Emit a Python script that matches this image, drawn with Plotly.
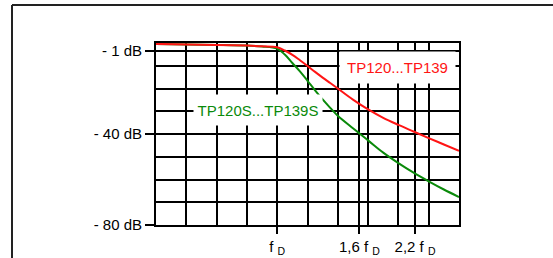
import plotly.graph_objects as go

# frequency relative to f_D
freq = [0.5, 0.7071, 0.8409, 0.917, 1.0, 1.0443, 1.0905, 1.1388, 1.1892, 1.2418,
        1.2968, 1.3543, 1.4142, 1.5422, 1.6818, 1.834, 2.0, 2.181, 2.3784, 2.5937, 2.8284]
tp_std = [-0.4, -0.85, -1.15, -1.45, -1.9, -3.3, -5.2, -7.6, -10.1, -12.7,
          -15.2, -17.6, -20.0, -24.9, -29.2, -32.9, -36.0, -38.9, -41.8, -44.6, -47.4]
tp_s = [-0.4, -0.85, -1.15, -1.5, -2.5, -5.1, -8.8, -12.5, -16.6, -20.8,
        -24.8, -28.5, -32.0, -37.5, -42.8, -48.2, -52.8, -57.0, -60.8, -64.4, -67.7]

x_tickvals = [1.0, 1.6, 2.2]
x_ticktext = ["f <sub>D</sub>", "1,6 f <sub>D</sub>", "2,2 f <sub>D</sub>"]
y_tickvals = [-3.6, -40, -80]
y_ticktext = ["- 1 dB", "- 40 dB", "- 80 dB"]
x_grid = [0.5 * 2 ** (i / 4) for i in range(11)]
y_grid = [-80, -70, -60, -50, -40, -30, -20, -10, 0]

RED = "#ff1414"
GREEN = "#0a8a0a"
FONT = "Liberation Sans, Arial, sans-serif"

fig = go.Figure()
fig.add_trace(go.Scatter(x=freq, y=tp_s, mode="lines", line=dict(color=GREEN, width=2, shape="spline"),
                         name="TP120S...TP139S"))
fig.add_trace(go.Scatter(x=freq, y=tp_std, mode="lines", line=dict(color=RED, width=2, shape="spline"),
                         name="TP120...TP139"))

fig.update_xaxes(type="log", range=[-0.30103, 0.45154], tickvals=x_tickvals, ticktext=x_ticktext,
                 showgrid=True, gridcolor="black", gridwidth=2, automargin=False,
                 ticks="outside", ticklen=7, tickwidth=2, tickcolor="black",
                 showline=True, linecolor="black", linewidth=2, mirror=True,
                 zeroline=False, tickfont=dict(size=15, color="black", family=FONT),
                 minor=dict(tickvals=x_grid, showgrid=True, gridcolor="black", gridwidth=2, ticks=""))
fig.update_yaxes(range=[-80, 0], tickvals=y_tickvals, ticktext=y_ticktext,
                 showgrid=True, gridcolor="black", gridwidth=2, automargin=False,
                 ticks="outside", ticklen=9, tickwidth=2, tickcolor="black",
                 showline=True, linecolor="black", linewidth=2, mirror=True,
                 zeroline=False, tickfont=dict(size=15, color="black", family=FONT),
                 minor=dict(tickvals=y_grid, showgrid=True, gridcolor="black", gridwidth=2, ticks=""))

fig.add_annotation(xref="paper", yref="paper", x=0.797, y=0.865, xanchor="center", yanchor="middle",
                   text="TP120...TP139",
                   showarrow=False, font=dict(size=15, color=RED, family=FONT),
                   bgcolor="white", width=115, height=31, borderpad=0)
fig.add_annotation(xref="paper", yref="paper", x=0.3366, y=0.632, xanchor="center", yanchor="middle",
                   text="TP120S...TP139S",
                   showarrow=False, font=dict(size=15, color=GREEN, family=FONT),
                   bgcolor="white", width=128, height=30, borderpad=0)

# outer frame (top and left edges visible)
fig.add_shape(type="line", xref="paper", yref="paper", x0=(12 - 156) / 303, x1=(560 - 156) / 303,
              y0=(225 - 5) / 182, y1=(225 - 5) / 182, line=dict(color="#222", width=2))
fig.add_shape(type="line", xref="paper", yref="paper", x0=(12 - 156) / 303, x1=(12 - 156) / 303,
              y0=(225 - 5) / 182, y1=(225 - 270) / 182, line=dict(color="#222", width=2))

fig.update_layout(width=553, height=258, margin=dict(l=156, r=94, t=43, b=33),
                  plot_bgcolor="white", paper_bgcolor="white", showlegend=False,
                  font=dict(family=FONT))

fig.write_html("out.html", config={"displayModeBar": False},
               post_script="document.body.style.margin='0px';")
